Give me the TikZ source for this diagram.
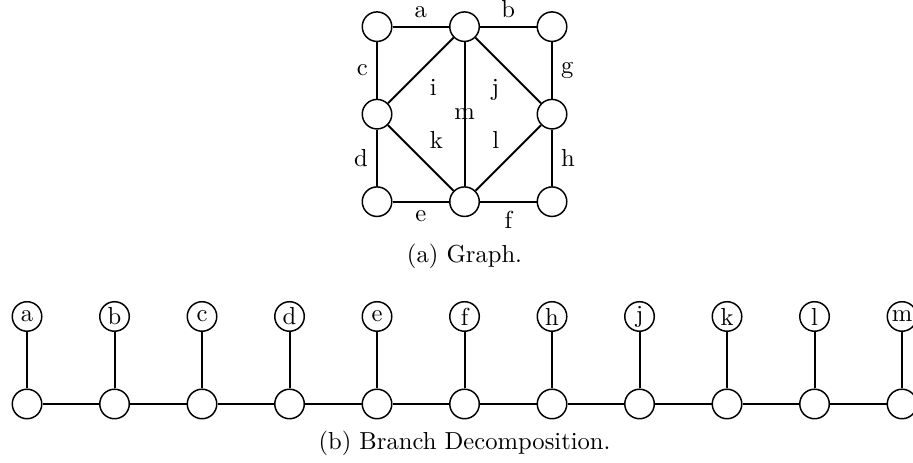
\documentclass[tikz,border=0pt]{standalone}
\tikzset{
  vtx/.style={circle, draw, semithick, inner sep=0pt, minimum size=12pt},
  edg/.style={thick}
}
\begin{document}
\begin{tikzpicture}
    \useasboundingbox (-0.386,-0.829) rectangle (12.657,5.771);
    \clip (-0.386,-0.829) rectangle (12.657,5.771);

    % graph
    \node[vtx] (1) at (5,5.39) {};
    \node[vtx] (2) at (6.25,5.39) {};
    \node[vtx] (3) at (7.5,5.39) {};
    \node[vtx] (4) at (5,4.14) {};
    \node[vtx] (5) at (7.5,4.14) {};
    \node[vtx] (6) at (5,2.89) {};
    \node[vtx] (7) at (6.25,2.89) {};
    \node[vtx] (8) at (7.5,2.89) {};

    \draw[edg] (1) -- node[above] {a} (2);
    \draw[edg] (2) -- node[above] {b} (3);
    \draw[edg] (1) -- node[left] {c} (4);
    \draw[edg] (4) -- node[left] {d} (6);
    \draw[edg] (6) -- node[below] {e} (7);
    \draw[edg] (7) -- node[below] {f} (8);
    \draw[edg] (3) -- node[right] {g} (5);
    \draw[edg] (5) -- node[right] {h} (8);
    \draw[edg] (4) -- node[below right] {i} (2);
    \draw[edg] (2) -- node[below left] {j} (5);
    \draw[edg] (4) -- node[above right] {k} (7);
    \draw[edg] (7) -- node[above left] {l} (5);
    \draw[edg] (2) -- node {m} (7);

    \node (capa) at (6.25,2.11) {(a) Graph.};

    % branch decomposition
    \node[vtx] (t1) at (0,0) {};
    \node[vtx] (t2) at (1.25,0) {};
    \node[vtx] (t3) at (2.5,0) {};
    \node[vtx] (t4) at (3.75,0) {};
    \node[vtx] (t5) at (5,0) {};
    \node[vtx] (t6) at (6.25,0) {};
    \node[vtx] (t7) at (7.5,0) {};
    \node[vtx] (t8) at (8.75,0) {};
    \node[vtx] (t9) at (10,0) {};
    \node[vtx] (t10) at (11.25,0) {};
    \node[vtx] (t11) at (12.5,0) {};

    \node[vtx] (a) at (0,1.25) {a};
    \node[vtx] (b) at (1.25,1.25) {b};
    \node[vtx] (c) at (2.5,1.25) {c};
    \node[vtx] (d) at (3.75,1.25) {d};
    \node[vtx] (e) at (5,1.25) {e};
    \node[vtx] (f) at (6.25,1.25) {f};
    \node[vtx] (h) at (7.5,1.25) {h};
    \node[vtx] (j) at (8.75,1.25) {j};
    \node[vtx] (k) at (10,1.25) {k};
    \node[vtx] (l) at (11.25,1.25) {l};
    \node[vtx] (m) at (12.5,1.25) {m};

    \draw[edg] (t1) -- (t2) -- (t3) -- (t4) -- (t5) -- (t6) -- (t7) -- (t8) -- (t9) -- (t10) -- (t11);
    \draw[edg] (a) -- (t1);
    \draw[edg] (b) -- (t2);
    \draw[edg] (c) -- (t3);
    \draw[edg] (d) -- (t4);
    \draw[edg] (e) -- (t5);
    \draw[edg] (f) -- (t6);
    \draw[edg] (h) -- (t7);
    \draw[edg] (j) -- (t8);
    \draw[edg] (k) -- (t9);
    \draw[edg] (l) -- (t10);
    \draw[edg] (m) -- (t11);

    \node (capb) at (6.25,-0.56) {(b) Branch Decomposition.};
  \end{tikzpicture}
\end{document}
